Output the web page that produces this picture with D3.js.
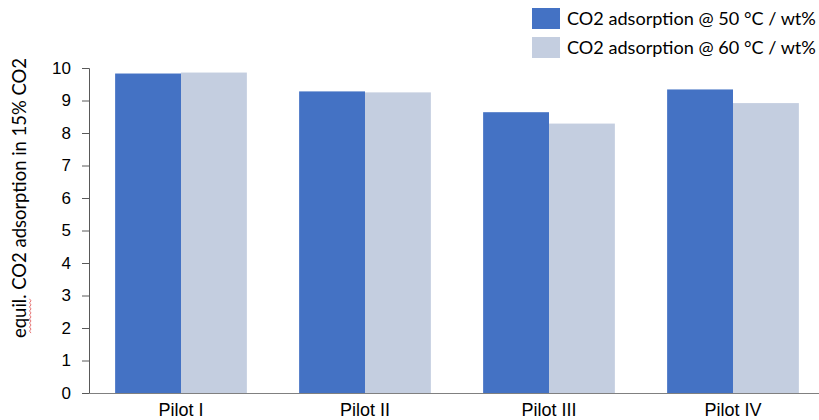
<!DOCTYPE html>
<html><head><meta charset="utf-8">
<script src="https://cdn.jsdelivr.net/npm/d3@7"></script>
<style>body{margin:0;background:#fff;}svg{display:block;font-family:Lato,"Open Sans",sans-serif;}</style>
</head><body>
<svg id="chart" width="819" height="420"></svg>
<script>
const categories = ["Pilot I", "Pilot II", "Pilot III", "Pilot IV"];
const seriesNames = ["CO2 adsorption @ 50 °C / wt%", "CO2 adsorption @ 60 °C / wt%"];
const values50 = [9.83, 9.28, 8.64, 9.34];
const values60 = [9.86, 9.25, 8.29, 8.92];
const yTicks = [0,1,2,3,4,5,6,7,8,9,10];
const colors = ["#4472C4", "#C4CEE0"];

function fitSize(sel, target, base) {
  sel.style("font-size", base + "px");
  const w = sel.node().getComputedTextLength();
  const s = base * target / w;
  sel.style("font-size", s + "px");
  return s;
}

const svg = d3.select("#chart");
const x = d3.scaleBand().domain(categories).range([89, 825]).paddingInner(0.284).paddingOuter(0.142);
const xs = d3.scaleBand().domain([0,1]).range([0, x.bandwidth()]);
const y = d3.scaleLinear().domain([0, 10]).range([393, 68]);

const data = categories.map((c,i)=>({cat:c, vals:[values50[i], values60[i]]}));

const g = svg.append("g");
g.selectAll("g.grp").data(data).join("g").attr("class","grp")
  .attr("transform", d=>`translate(${x(d.cat)},0)`)
  .selectAll("rect").data(d=>d.vals.map((v,k)=>({v,k}))).join("rect")
  .attr("x", d=>xs(d.k)).attr("width", xs.bandwidth())
  .attr("y", d=>y(d.v)).attr("height", d=>y(0)-y(d.v))
  .attr("fill", d=>colors[d.k]);

// y axis
const yAxis = svg.append("g").attr("transform","translate(89,0)")
  .call(d3.axisLeft(y).tickValues(yTicks).tickSize(7).tickPadding(11));
yAxis.select(".domain").attr("stroke","#595959");
yAxis.selectAll(".tick line").attr("stroke","#595959");
yAxis.selectAll(".tick text").attr("fill","#000").style("font-size","17px");

// x axis
const xAxis = svg.append("g").attr("transform","translate(0,393)")
  .call(d3.axisBottom(x).tickSize(0));
xAxis.select(".domain").attr("stroke","#808080").attr("d","M89,0.5H819");
const xt = xAxis.selectAll(".tick text").attr("fill","#000").attr("dy",null).attr("y",23);
const xs0 = fitSize(xAxis.select(".tick text"), 45, 16);
xt.style("font-size", xs0 + "px");

// y title
const yt = svg.append("text").attr("transform","translate(26,198) rotate(-90)")
  .attr("text-anchor","middle").attr("fill","#000")
  .text("equil. CO2 adsorption in 15% CO2");
fitSize(yt, 280, 16);
// spellcheck squiggle under "equil"
const tl = yt.node().getComputedTextLength();
const e0 = yt.node().getSubStringLength(0,1), e1 = yt.node().getSubStringLength(0,5);
const yStart = 198 + tl/2 - e0 * 0.5, yEnd = 198 + tl/2 - e1;
const n = Math.round((yStart - yEnd)/2);
const sq = d3.range(0, n+1).map(i=>[i%2?29.5:31, yStart - i*(yStart-yEnd)/n]);
svg.append("path").attr("d", d3.line()(sq)).attr("fill","none").attr("stroke","#e05050").attr("stroke-width",0.8);

// legend
const leg = svg.append("g");
seriesNames.forEach((name,k)=>{
  const yy = [8, 37][k];
  leg.append("rect").attr("x",532).attr("y",yy).attr("width",28).attr("height",21).attr("fill",colors[k]);
  const t = leg.append("text").attr("x",567).attr("y",yy+11).attr("dy","0.35em")
    .attr("fill","#000").text(name);
  fitSize(t, 249, 16);
});
</script>
</body></html>
